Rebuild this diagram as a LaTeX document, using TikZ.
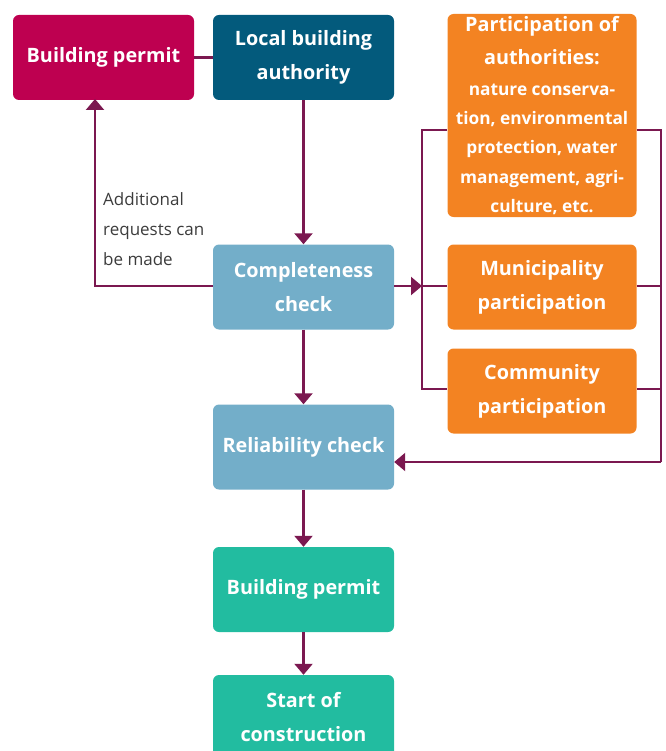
\documentclass[tikz,border=0pt]{standalone}
\usepackage{fontspec}
\setmainfont{Open Sans}
\usetikzlibrary{arrows.meta}
\definecolor{cMag}{HTML}{BE0050}
\definecolor{cDark}{HTML}{035A7C}
\definecolor{cOr}{HTML}{F38322}
\definecolor{cLb}{HTML}{73AEC9}
\definecolor{cGr}{HTML}{22BCA0}
\definecolor{cLine}{HTML}{7B1850}
\definecolor{cTxt}{HTML}{3C3C3C}
\begin{document}
\begin{tikzpicture}[x=1pt,y=-1pt,
  box/.style={rounded corners=6pt, text=white, font=\bfseries\fontsize{19.8}{34}\selectfont,
    align=center, inner sep=0pt, minimum width=181pt, minimum height=85pt},
  obox/.style={box, fill=cOr, minimum width=189pt},
  conn/.style={draw=cLine, line width=2.2pt},
  arr/.style={conn, -{Triangle[width=18pt,length=11pt]}}]
\useasboundingbox (0,0) rectangle (665,751);
\node[box, fill=cMag] (bp1) at (103.5,57.5) {Building permit};
\node[box, fill=cDark] (lba) at (303.5,57.5) {Local building\\authority};
\node[obox, minimum height=203pt, font=\bfseries\fontsize{17.3}{29.3}\selectfont] (pa) at (542,115.5)
  {{\fontsize{19.8}{33}\selectfont Participation of}\\[4pt]{\fontsize{19.8}{33}\selectfont authorities:}\\[1pt]
   nature conserva-\\tion, environmental\\protection, water\\management, agri-\\culture, etc.};
\node[box, fill=cLb] (cc) at (303.5,287) {Completeness\\check};
\node[obox] (mp) at (542,287) {Municipality\\participation};
\node[obox] (cp) at (542,391) {Community\\participation};
\node[box, fill=cLb] (rc) at (303.5,447) {Reliability check};
\node[box, fill=cGr] (bp2) at (303.5,589.5) {Building permit};
\node[box, fill=cGr] (sc) at (303.5,717.5) {Start of\\construction};
\node[anchor=west, align=left, text=cTxt, inner sep=0pt, font=\fontsize{17}{30}\selectfont] (lbl) at (103,229)
  {Additional\\requests can\\be made};
\coordinate (jl) at (422,286);
\coordinate (lt) at (422,130);
\coordinate (lb) at (422,389);
\coordinate (rt) at (661,130);
\coordinate (rb) at (661,462);
\coordinate (up) at (95,99);
\draw[conn] (bp1) -- (lba);
\draw[arr] (lba.south) -- (cc.north);
\draw[arr] (cc.west |- jl) -| (up);
\draw[arr] (cc) -- (rc);
\draw[arr] (rc) -- (bp2);
\draw[arr] (bp2) -- (sc);
\draw[arr] (cc.east |- jl) -- (jl);
\draw[conn] (pa.west |- lt) -- (lt) -- (lb) -- (cp.west |- lb);
\draw[conn] (jl) -- (mp.west |- jl);
\draw[conn] (pa.east |- rt) -- (rt) -- (rb);
\draw[conn] (mp.east |- jl) -- (jl -| rt);
\draw[conn] (cp.east |- lb) -- (lb -| rt);
\draw[arr] (rb) -- (rc.east |- rb);
\end{tikzpicture}
\end{document}
